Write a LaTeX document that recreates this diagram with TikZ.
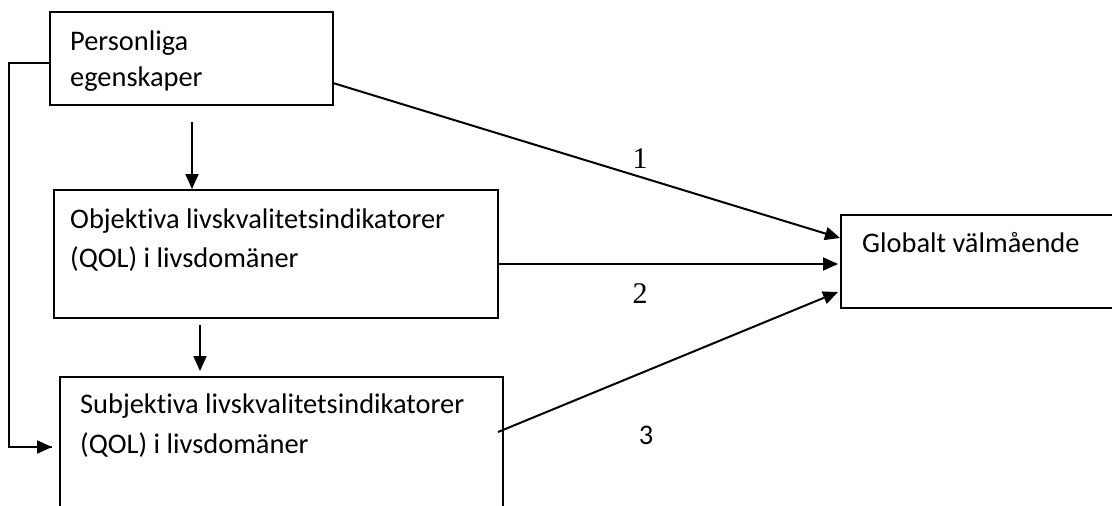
\documentclass[tikz,border=0pt]{standalone}
\usepackage{fontspec}
\setmainfont{Carlito}[Ligatures={NoCommon}]
\newfontfamily\timesfont{Liberation Serif}
\usetikzlibrary{arrows.meta}
\tikzset{
  box/.style={draw=black, line width=2pt, rectangle, inner sep=0pt},
  txt/.style={anchor=base west, inner sep=0pt, font=\fontsize{28.4}{32}\selectfont},
  num/.style={inner sep=0pt, font=\timesfont\fontsize{30}{32}\selectfont},
  numsans/.style={inner sep=0pt, font=\fontsize{28.4}{32}\selectfont},
  arr/.style={line width=2pt, -{Triangle[length=15pt,width=13pt]}},
  ln/.style={line width=2pt}
}
\begin{document}
\begin{tikzpicture}[x=1pt,y=-1pt]
\useasboundingbox (0,0) rectangle (1112,506);
\clip (0,0) rectangle (1112,506);
\fill[white] (0,0) rectangle (1112,506);
% boxes
\node[box, minimum width=283pt, minimum height=93pt] (P) at (191.5,58.5) {};
\node[box, minimum width=444pt, minimum height=128pt] (O) at (276,254) {};
\node[box, minimum width=443pt, minimum height=170pt] (S) at (281.5,462) {};
\node[box, minimum width=300pt, minimum height=93pt] (G) at (991,261.5) {};
% texts
\node[txt] (p1) at (70,50) {Personliga};
\node[txt] (p2) at (70,86) {egenskaper};
\node[txt] (o1) at (70,228) {Objektiva livskvalitetsindikatorer};
\node[txt] (o2) at (70,267) {(QOL) i livsdomäner};
\node[txt] (s1) at (80,413) {Subjektiva livskvalitetsindikatorer};
\node[txt] (s2) at (80,453) {(QOL) i livsdomäner};
\node[txt] (g1) at (862,252) {Globalt välmående};
% labels
\node[num] (l1) at (640,159) {1};
\node[num] (l2) at (640,294) {2};
\node[numsans] (l3) at (646,435) {3};
% connectors
\coordinate (a1) at (192,122);
\draw[arr] (a1) -- (a1 |- O.north);
\coordinate (a2) at (200,325);
\coordinate (a2e) at (200,371);
\draw[arr] (a2) -- (a2e);
\coordinate (lp) at (P.west |- 0,63);
\coordinate (le) at (52,447);
\draw[ln] (lp) -- (9,63) -- (9,447) -- (le);
\draw[arr] (le) ++(-16,0) -- (le);
\coordinate (c1) at (333,83);
\coordinate (c1e) at (840,238);
\draw[arr] (c1) -- (c1e);
\coordinate (c2e) at (838,264);
\draw[arr] (O.east |- c2e) -- (c2e);
\coordinate (c3) at (498,432);
\coordinate (c3e) at (838,292);
\draw[arr] (c3) -- (c3e);
\end{tikzpicture}
\end{document}
